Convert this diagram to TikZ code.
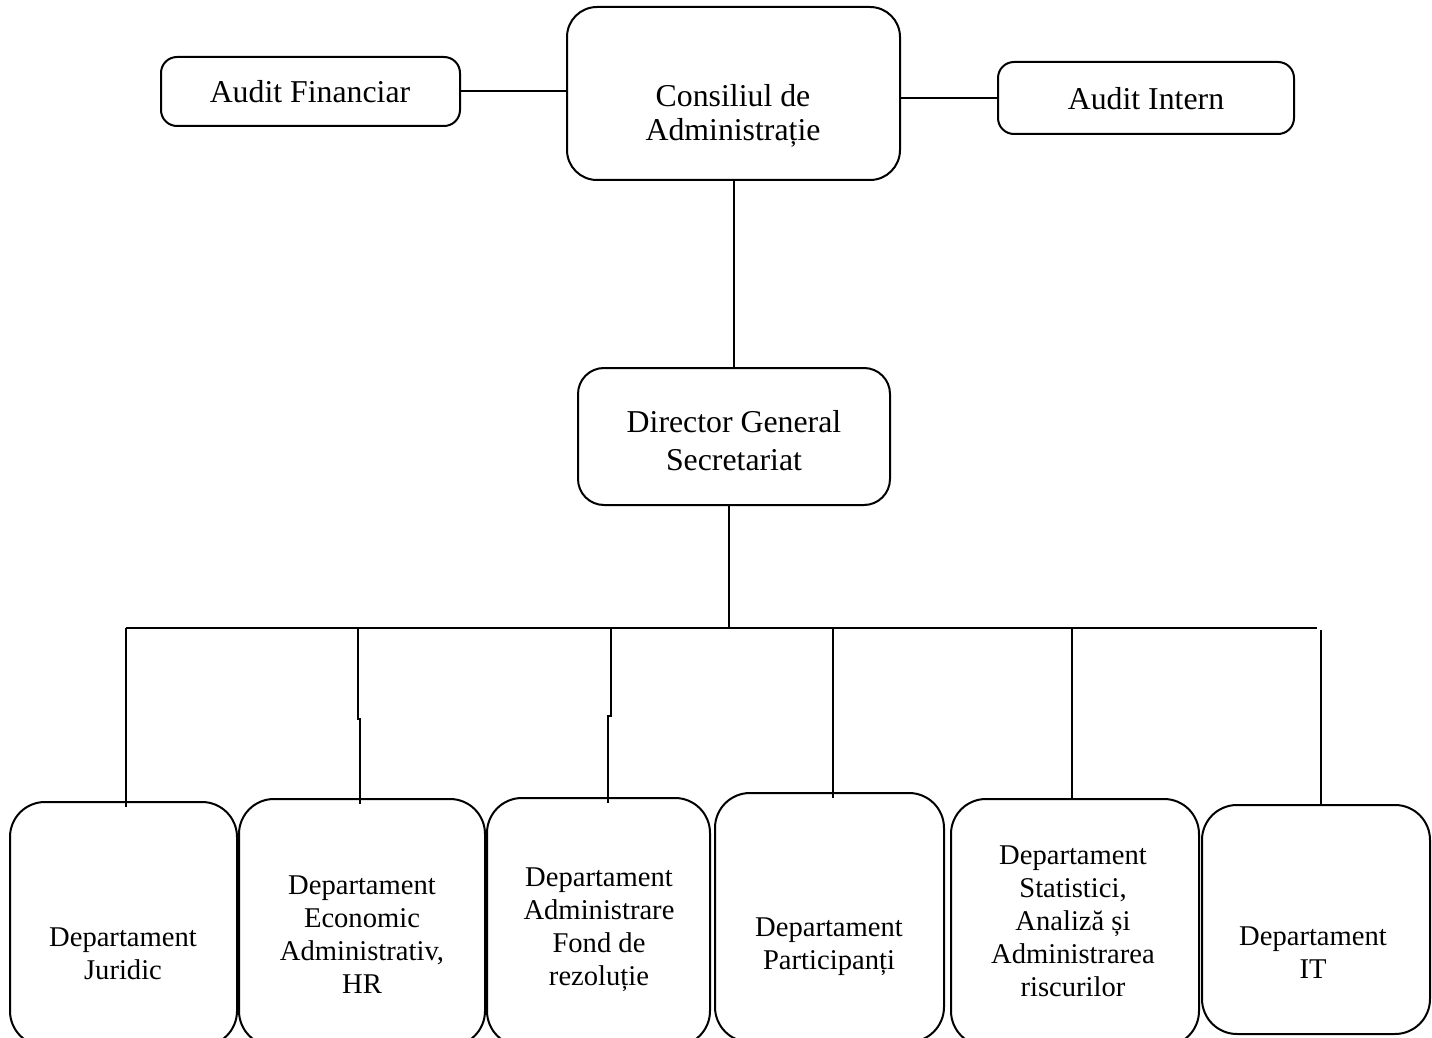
\documentclass[tikz,border=0pt]{standalone}
\usepackage{fontspec}
\setmainfont{Liberation Serif}
\begin{document}
\begin{tikzpicture}[x=0.5pt,y=-0.5pt,line width=1pt,
  font=\fontsize{14.3}{16.5}\selectfont,
  box/.style={draw,rectangle,outer sep=0pt,inner sep=0pt},
  txt/.style={align=center,inner sep=0pt},
  toptxt/.style={txt,font=\fontsize{15.9}{17.3}\selectfont}]
\path[use as bounding box,clip] (0,0) rectangle (1432,1038);
\node[box,rounded corners=15pt,minimum width=166.5pt,minimum height=86.5pt] (1) at (733.5,93.5) {};
\node[box,rounded corners=8pt,minimum width=149.5pt,minimum height=34.5pt] (2) at (310.5,91.5) {};
\node[box,rounded corners=8pt,minimum width=148pt,minimum height=36pt] (3) at (1146,98) {};
\node[box,rounded corners=13pt,minimum width=156pt,minimum height=68.5pt] (4) at (734,436.5) {};
\node[box,rounded corners=17.5pt,minimum width=113.5pt,minimum height=122pt] (5) at (123.5,924) {};
\node[box,rounded corners=17.5pt,minimum width=123pt,minimum height=123.5pt] (6) at (362,922.5) {};
\node[box,rounded corners=17.5pt,minimum width=111.5pt,minimum height=124pt] (7) at (598.5,922) {};
\node[box,rounded corners=17.5pt,minimum width=114.5pt,minimum height=124.5pt] (8) at (829.5,917.5) {};
\node[box,rounded corners=17.5pt,minimum width=124pt,minimum height=123.5pt] (9) at (1075,922.5) {};
\node[box,rounded corners=17.5pt,minimum width=114pt,minimum height=114.5pt] (10) at (1316,919.5) {};
\node[toptxt] (1l) at (733,116) {Consiliul de\\Administrație};
\node[toptxt] (2l) at (310,92) {Audit Financiar};
\node[toptxt] (3l) at (1146,99) {Audit Intern};
\node[toptxt,font=\fontsize{15.9}{19}\selectfont] (4l) at (734,441) {Director General\\Secretariat};
\node[txt] (5l) at (123,954) {Departament\\Juridic};
\node[txt] (6l) at (362,935) {Departament\\Economic\\Administrativ,\\HR};
\node[txt] (7l) at (599,930) {Departament\\Administrare\\Fond de\\rezoluție};
\node[txt] (8l) at (829,947) {Departament\\Participanți};
\node[txt] (9l) at (1073,921) {Departament\\Statistici,\\Analiză și\\Administrarea\\riscurilor};
\node[txt] (10l) at (1313,953) {Departament\\IT};
\coordinate (d) at (729,628);
\coordinate (b1) at (126,628);
\coordinate (b2) at (358,628);
\coordinate (b3) at (611,628);
\coordinate (b4) at (833,628);
\coordinate (b5) at (1072,628);
\coordinate (b6) at (1321,630);
\coordinate (be) at (1317,628);
\coordinate (j2) at (360,719);
\coordinate (j3) at (608,716);
\draw (2.east) -- (2.east -| 1.west);
\draw (3.west) -- (3.west -| 1.east);
\draw (1.south) -- (1.south |- 4.north);
\draw (d |- 4.south) -- (d);
\draw (b1) -- (be);
\draw (b1) -- ([yshift=-2.5pt]b1 |- 5.north);
\draw (b2) |- (j2) -- ([yshift=-2.5pt]j2 |- 6.north);
\draw (b3) |- (j3) -- ([yshift=-2.5pt]j3 |- 7.north);
\draw (b4) -- ([yshift=-2.5pt]b4 |- 8.north);
\draw (b5) -- (b5 |- 9.north);
\draw (b6) -- (b6 |- 10.north);
\end{tikzpicture}
\end{document}
